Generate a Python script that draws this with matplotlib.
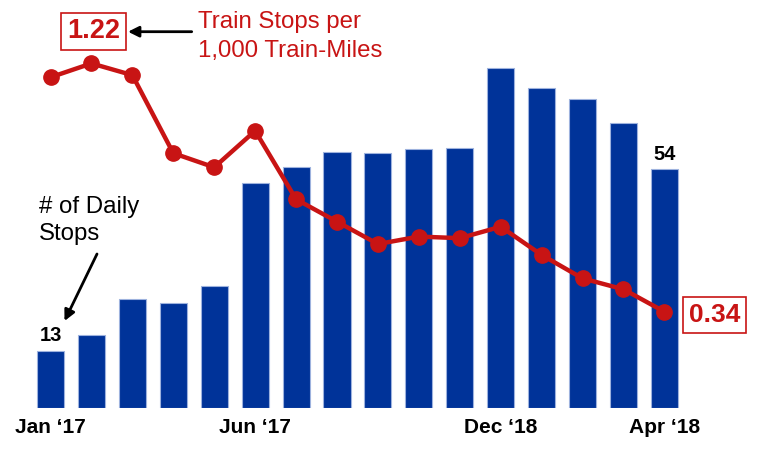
import matplotlib
matplotlib.use("Agg")
import matplotlib.pyplot as plt
import numpy as np

plt.rcParams['font.family'] = ['Liberation Sans', 'DejaVu Sans']

months = ["Jan '17", "Feb '17", "Mar '17", "Apr '17", "May '17", "Jun '17",
          "Jul '17", "Aug '17", "Sep '17", "Oct '17", "Nov '17", "Dec '17",
          "Jan '18", "Feb '18", "Mar '18", "Apr '18"]
daily_stops = [13, 16.5, 24.7, 23.8, 27.7, 50.9, 54.6, 57.9, 57.6, 58.6, 58.8,
               77.0, 72.4, 69.9, 64.4, 54]
stops_per_1000 = [1.22, 1.272, 1.228, 0.935, 0.882, 1.019, 0.762, 0.678, 0.594,
                  0.622, 0.616, 0.659, 0.553, 0.465, 0.424, 0.34]
tick_idx = [0, 5, 11, 15]
tick_labels = ["Jan \u201817", "Jun \u201817", "Dec \u201818", "Apr \u201818"]

W, H = 762, 471
BLUE = '#003399'
RED = '#C81414'

fig = plt.figure(figsize=(W / 100, H / 100), dpi=100)
ax = fig.add_axes([0, (H - 408) / H, 1, 388 / H])
x = np.arange(len(months))
ax.bar(x, daily_stops, width=0.66, color=BLUE, edgecolor='#9DB2DE', linewidth=0.8, zorder=2)
ax.set_xlim(-1.234, 17.384)
ax.set_ylim(0, 87.8)
for s in ax.spines.values():
    s.set_visible(False)
ax.set_yticks([])
ax.set_xticks(tick_idx)
ax.set_xticklabels(tick_labels, fontsize=15, fontweight='bold')
ax.tick_params(axis='x', length=0, pad=7.5)

for i in (0, len(daily_stops) - 1):
    ax.annotate(f"{daily_stops[i]:.0f}", (x[i], daily_stops[i]), xytext=(0, 4),
                textcoords='offset points', ha='center', va='bottom',
                fontsize=14.5, fontweight='bold', color='black')

ax2 = ax.twinx()
ax2.plot(x, stops_per_1000, color=RED, lw=3.2, marker='o', markersize=11, zorder=3)
ax2.set_ylim(-0.0215, 1.435)
ax2.set_yticks([])
for s in ax2.spines.values():
    s.set_visible(False)

def fp(px, py):
    return (px / W, 1 - py / H)

box = dict(boxstyle='square,pad=0.22', facecolor='white', edgecolor=RED, linewidth=1.2)
fig.text(*fp(93.5, 31.5), f"{stops_per_1000[0]:.2f}", ha='center', va='center',
         fontsize=19.5, fontweight='bold', color=RED, bbox=box)
fig.text(*fp(714.7, 315.3), f"{stops_per_1000[-1]:.2f}", ha='center', va='center',
         fontsize=19, fontweight='bold', color=RED, bbox=box)

fig.text(*fp(198, 28.3), "Train Stops per", ha='left', va='baseline', fontsize=17.3, color=RED)
fig.text(*fp(198, 56.7), "1,000 Train-Miles", ha='left', va='baseline', fontsize=17.3, color=RED)
fig.text(*fp(39, 213), "# of Daily", ha='left', va='baseline', fontsize=17.3, color='black')
fig.text(*fp(39, 240), "Stops", ha='left', va='baseline', fontsize=17.3, color='black')

arrow = dict(arrowstyle='-|>', color='black', lw=2, mutation_scale=16, shrinkA=0, shrinkB=0)
ax.annotate('', xy=(128, H - 31.7), xytext=(191.7, H - 31.7),
            xycoords='figure pixels', textcoords='figure pixels', arrowprops=arrow)
ax.annotate('', xy=(64.5, H - 321), xytext=(97, H - 254),
            xycoords='figure pixels', textcoords='figure pixels', arrowprops=arrow)

fig.savefig('out.png', dpi=100)
